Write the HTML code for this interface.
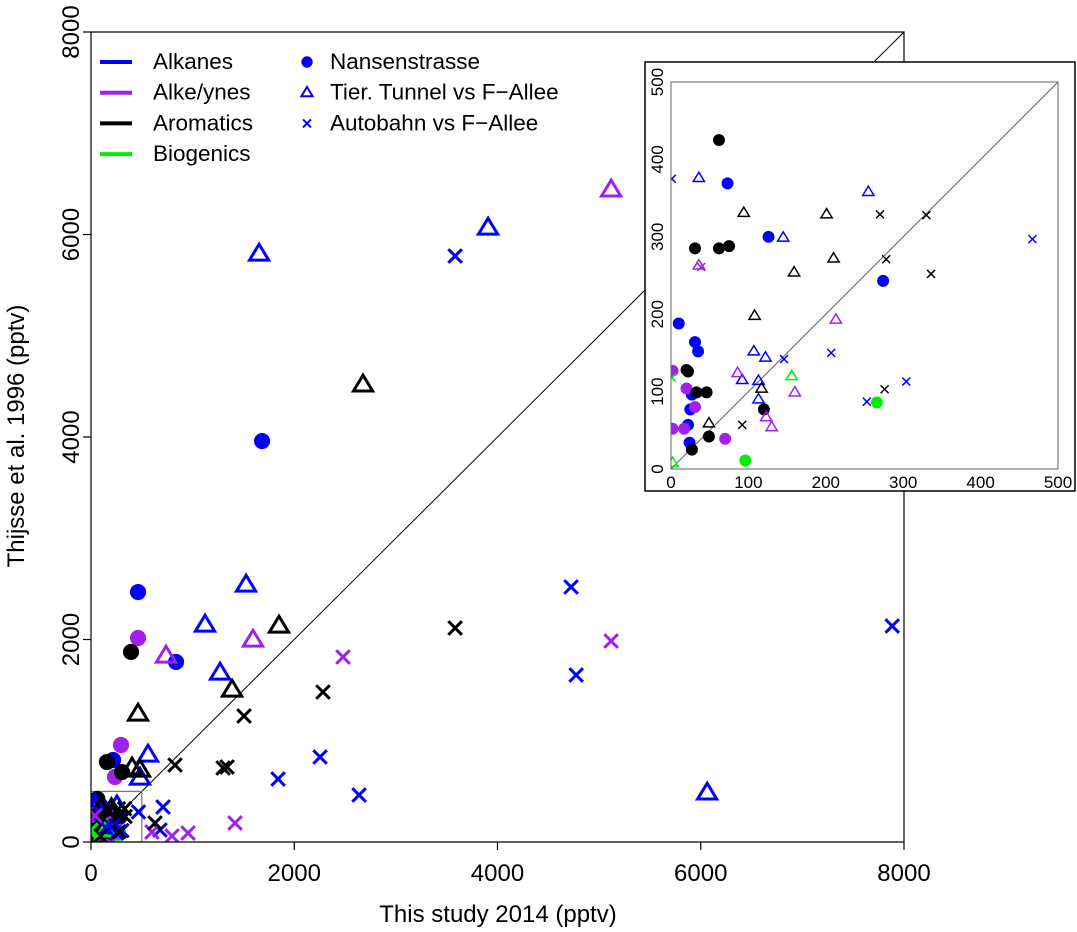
<!DOCTYPE html>
<html><head><meta charset="utf-8">
<style>
html,body{margin:0;padding:0;background:#fff;}
svg{display:block;font-family:"Liberation Sans",Arial,sans-serif;}
</style></head>
<body>
<svg id="chart" width="1077" height="932" viewBox="0 0 1077 932" xmlns="http://www.w3.org/2000/svg"></svg>
<script>
// ---- data (pptv): [this study 2014] vs [Thijsse et al. 1996] ----
const blueCircleX = [1683,463,837,217,73,126,274,10,31,35,27,25,22,24];
const blueCircleY = [3960,2469,1778,810,369,300,243,188,164,152,96,77,57,34];
const purpleCircleX = [463,295,236,2,20,31,2,17,70];
const purpleCircleY = [2015,958,642,127,104,80,52,52,39];
const blackCircleX = [394,157,305,62,31,62,75,20,22,33,46,120,49,27];
const blackCircleY = [1877,790,691,425,285,285,288,128,126,99,99,77,42,25];
const greenCircleX = [266,96];
const greenCircleY = [86,11];
const blueTriX = [1654,3907,1526,1122,1270,561,482,6063,36,255,145,107,122,92,113,113];
const blueTriY = [5807,6064,2538,2143,1669,859,632,484,376,358,299,152,144,115,114,90];
const purpleTriX = [5118,1594,738,36,213,86,160,123,130];
const purpleTriY = [6440,1995,1837,263,193,124,99,67,54];
const blackTriX = [2677,1850,1388,463,404,482,94,201,210,159,108,117,49];
const blackTriY = [4514,2133,1501,1264,731,711,331,329,272,254,198,104,59];
const greenTriX = [156,2];
const greenTriY = [120,8];
const blueCrossX = [3583,4724,7884,4774,1841,2254,2638,709,679,1,467,146,207,304,253];
const blueCrossY = [5788,2519,2133,1649,622,840,464,346,119,375,297,142,150,113,87];
const purpleCrossX = [5118,2480,1417,955,797,600,39];
const purpleCrossY = [1985,1827,188,89,59,99,261];
const blackCrossX = [3583,1506,2283,827,1300,1339,630,270,330,278,336,276,92];
const blackCrossY = [2114,1244,1481,760,731,741,188,329,328,271,252,103,57];
const greenCrossX = [1];
const greenCrossY = [118];
const mainTicks = [0,2000,4000,6000,8000];
const insetTicks = [0,100,200,300,400,500];

const series = [
 {name:'nansenstrasse-alkanes',shape:'circle',color:'#0000ff',xs:blueCircleX,ys:blueCircleY},
 {name:'nansenstrasse-alkeynes',shape:'circle',color:'#a020f0',xs:purpleCircleX,ys:purpleCircleY},
 {name:'nansenstrasse-aromatics',shape:'circle',color:'#000000',xs:blackCircleX,ys:blackCircleY},
 {name:'nansenstrasse-biogenics',shape:'circle',color:'#00ee00',xs:greenCircleX,ys:greenCircleY},
 {name:'tunnel-alkanes',shape:'tri',color:'#0000ff',xs:blueTriX,ys:blueTriY},
 {name:'tunnel-alkeynes',shape:'tri',color:'#a020f0',xs:purpleTriX,ys:purpleTriY},
 {name:'tunnel-aromatics',shape:'tri',color:'#000000',xs:blackTriX,ys:blackTriY},
 {name:'tunnel-biogenics',shape:'tri',color:'#00ee00',xs:greenTriX,ys:greenTriY},
 {name:'autobahn-alkanes',shape:'cross',color:'#0000ff',xs:blueCrossX,ys:blueCrossY},
 {name:'autobahn-alkeynes',shape:'cross',color:'#a020f0',xs:purpleCrossX,ys:purpleCrossY},
 {name:'autobahn-aromatics',shape:'cross',color:'#000000',xs:blackCrossX,ys:blackCrossY},
 {name:'autobahn-biogenics',shape:'cross',color:'#00ee00',xs:greenCrossX,ys:greenCrossY}
];

const NS='http://www.w3.org/2000/svg';
const svg=document.getElementById('chart');
function mk(tag,attrs,parent){const e=document.createElementNS(NS,tag);for(const k in attrs)e.setAttribute(k,attrs[k]);(parent||svg).appendChild(e);return e;}

const M={l:91,r:904,t:32,b:842,max:8000};
const mx=v=>M.l+v/M.max*(M.r-M.l);
const my=v=>M.b-v/M.max*(M.b-M.t);
const I={l:671,r:1058,t:82,b:469,max:500};
const ix=v=>I.l+v/I.max*(I.r-I.l);
const iy=v=>I.b-v/I.max*(I.b-I.t);

function marker(g,shape,color,cx,cy,s,lw){
  let el;
  if(shape==='circle'){el=mk('circle',{cx:cx,cy:cy,r:s*0.95,fill:color},g);}
  else if(shape==='tri'){const h=s*1.15;el=mk('polygon',{points:`${cx},${cy-h} ${cx-h*0.98},${cy+h*0.62} ${cx+h*0.98},${cy+h*0.62}`,fill:'none',stroke:color,'stroke-width':lw,'stroke-linejoin':'miter'},g);}
  else {const d=s*0.8;el=mk('path',{d:`M${cx-d},${cy-d}L${cx+d},${cy+d}M${cx-d},${cy+d}L${cx+d},${cy-d}`,stroke:color,'stroke-width':lw,fill:'none'},g);}
  
  
}

const mainG=mk('g',{});


mk('defs',{}).innerHTML='<clipPath id="mc"><rect x="91" y="32" width="813" height="810"/></clipPath><clipPath id="ic"><rect x="671" y="82" width="387" height="387"/></clipPath>';
const ptsMain=mk('g',{'clip-path':'url(#mc)'},mainG);


const dl=mk('line',{x1:mx(0),y1:my(0),x2:mx(8000),y2:my(8000),stroke:'#000','stroke-width':1},ptsMain);


const zr=mk('rect',{x:mx(0),y:my(500),width:mx(500)-mx(0),height:my(0)-my(500),fill:'none',stroke:'#777','stroke-width':1.2},ptsMain);


series.forEach(s=>{for(let i=0;i<s.xs.length;i++)marker(ptsMain,s.shape,s.color,mx(s.xs[i]),my(s.ys[i]),8.5,3);});
const mb=mk('path',{d:`M${M.l},${M.t}H${M.r}V${M.b}M${M.l},${M.t}V${M.b}H${M.r}`,fill:'none',stroke:'#000','stroke-width':1.2},mainG);


mainTicks.forEach(t=>{
  mk('line',{x1:mx(t),y1:M.b,x2:mx(t),y2:M.b+8,stroke:'#000','stroke-width':1.2},mainG);
  const tx=mk('text',{x:mx(t),y:881,'font-size':24,'text-anchor':'middle',fill:'#000'},mainG);tx.textContent=t;
  
  
  mk('line',{x1:M.l-8,y1:my(t),x2:M.l,y2:my(t),stroke:'#000','stroke-width':1.2},mainG);
  const ty=mk('text',{x:0,y:0,'font-size':24,'text-anchor':'middle',fill:'#000',transform:`translate(79,${my(t)}) rotate(-90)`},mainG);ty.textContent=t;
  
  
});
const xt=mk('text',{x:498,y:922,'font-size':24,'text-anchor':'middle'},mainG);xt.textContent='This study 2014 (pptv)';


const yt=mk('text',{x:0,y:0,'font-size':24,'text-anchor':'middle',transform:'translate(24,436) rotate(-90)'},mainG);yt.textContent='Thijsse et al. 1996 (pptv)';



const lg=mk('g',{},mainG);


const groups=[['Alkanes','#0000ff'],['Alke/ynes','#a020f0'],['Aromatics','#000000'],['Biogenics','#00ee00']];
groups.forEach((g,i)=>{const y=61+i*30.7;
  mk('line',{x1:100,y1:y+1,x2:132,y2:y+1,stroke:g[1],'stroke-width':4},lg);
  const t=mk('text',{x:153,y:y+8,'font-size':22.5},lg);t.textContent=g[0];
  
  });
const sites=[['circle','Nansenstrasse'],['tri','Tier. Tunnel vs F\u2212Allee'],['cross','Autobahn vs F\u2212Allee']];
sites.forEach((s,i)=>{const y=61+i*30.7;
  marker(lg,s[0],'#0000ff',307,y+1,s[0]==='circle'?6:5,2);
  const t=mk('text',{x:330,y:y+8,'font-size':22.5},lg);t.textContent=s[1];
  
  });

const inG=mk('g',{});


mk('rect',{x:645,y:62,width:430,height:429,fill:'#fff',stroke:'#000','stroke-width':1.5},inG);
const ptsIn=mk('g',{'clip-path':'url(#ic)'},inG);


mk('line',{x1:ix(0),y1:iy(0),x2:ix(500),y2:iy(500),stroke:'#666','stroke-width':1},ptsIn);
series.forEach(s=>{for(let i=0;i<s.xs.length;i++){if(s.xs[i]<=505&&s.ys[i]<=505)marker(ptsIn,s.shape,s.color,ix(s.xs[i]),iy(s.ys[i]),s.shape==='circle'?6.3:5,1.5);}});
mk('rect',{x:I.l,y:I.t,width:I.r-I.l,height:I.b-I.t,fill:'none',stroke:'#666','stroke-width':1},inG);
insetTicks.forEach(t=>{
  const tx=mk('text',{x:ix(t),y:488,'font-size':17,'text-anchor':'middle',fill:'#000'},inG);tx.textContent=t;
  
  
  const ty=mk('text',{x:0,y:0,'font-size':17,'text-anchor':'middle',fill:'#000',transform:`translate(663,${iy(t)}) rotate(-90)`},inG);ty.textContent=t;
  
  
});
</script>
</body></html>
